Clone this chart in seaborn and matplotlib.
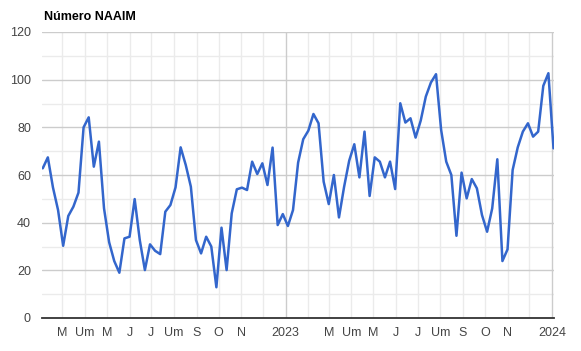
import matplotlib
matplotlib.use("Agg")
import matplotlib.pyplot as plt
import seaborn as sns
import pandas as pd

# ---- data ----
start_date = "2022-02-02"   # first weekly reading
naaim = [62.8, 67.4, 54.8, 45.3, 30.3, 42.8, 46.7, 52.6, 80.0, 84.2,
         63.5, 74.0, 46.0, 31.8, 23.9, 19.0, 33.4, 34.1, 49.9, 32.7,
         20.1, 30.9, 28.2, 26.8, 44.6, 47.4, 54.8, 71.6, 64.2, 55.1,
         32.7, 27.1, 34.1, 30.0, 12.9, 37.9, 20.1, 43.9, 54.0, 54.7,
         53.7, 65.6, 60.4, 64.9, 55.8, 71.5, 39.0, 43.6, 38.6, 45.3,
         65.2, 75.0, 78.6, 85.6, 81.7, 57.2, 47.8, 60.0, 42.2, 55.0,
         66.0, 72.9, 59.0, 78.2, 51.2, 67.4, 65.6, 59.0, 65.6, 54.1,
         90.1, 82.0, 83.8, 75.7, 82.8, 92.9, 98.8, 102.3, 78.9, 65.6,
         60.0, 34.5, 61.0, 50.2, 58.3, 54.4, 43.2, 36.2, 46.0, 66.6,
         23.9, 28.8, 62.1, 71.6, 78.2, 81.7, 76.1, 78.2, 97.4, 102.7,
         71.2]
month_ticks = ["2022-03-01", "2022-04-01", "2022-05-01", "2022-06-01", "2022-07-01",
               "2022-08-01", "2022-09-01", "2022-10-01", "2022-11-01", "2022-12-01",
               "2023-01-01", "2023-03-01", "2023-04-01", "2023-05-01", "2023-06-01",
               "2023-07-01", "2023-08-01", "2023-09-01", "2023-10-01", "2023-11-01",
               "2023-12-01", "2024-01-01"]
month_labels = ["M", "Um", "M", "J", "J", "Um", "S", "O", "N", "", "2023",
                "M", "Um", "M", "J", "J", "Um", "S", "O", "N", "", "2024"]
extra_grid = ["2023-02-01"]
year_lines = ["2023-01-01", "2024-01-01"]
y_ticks = [0, 20, 40, 60, 80, 100, 120]
title = "Número NAAIM"

dates = pd.date_range(start=start_date, periods=len(naaim), freq="7D")
df = pd.DataFrame({"date": dates, "value": naaim})

sns.set_style("white")
plt.rcParams["font.family"] = ["Liberation Sans", "DejaVu Sans"]

fig = plt.figure(figsize=(5.81, 3.51), dpi=100)
ax = fig.add_axes([42 / 581, 33 / 351, (553.5 - 42) / 581, (318 - 32) / 351])

# grid
for yv in range(10, 120, 20):
    ax.axhline(yv, color="#ebebeb", lw=1.0, zorder=0)
for yv in y_ticks[1:]:
    ax.axhline(yv, color="#cccccc", lw=1.0, zorder=0.5)
for d in month_ticks + extra_grid:
    if d not in year_lines:
        ax.axvline(pd.Timestamp(d), color="#ebebeb", lw=1.0, zorder=0)
for d in year_lines:
    ax.axvline(pd.Timestamp(d), color="#cccccc", lw=1.0, zorder=0.5)

sns.lineplot(data=df, x="date", y="value", ax=ax, color="#3366cc", lw=1.8, zorder=3)

ax.set_xlim(pd.Timestamp("2022-02-01"), dates[-1])
ax.set_ylim(0, 120)
ax.set_yticks(y_ticks)
ax.set_xticks([pd.Timestamp(d) for d in month_ticks])
ax.set_xticklabels(month_labels)
ax.set_xlabel("")
ax.set_ylabel("")
ax.tick_params(axis="both", length=0, colors="#444444", labelsize=9)
ax.tick_params(axis="y", pad=8)
ax.tick_params(axis="x", pad=6.5)

for s in ["top", "right", "left"]:
    ax.spines[s].set_visible(False)
ax.spines["bottom"].set_color("#333333")
ax.spines["bottom"].set_linewidth(1.3)
ax.spines["bottom"].set_zorder(4)

fig.text(44 / 581, 1 - 16.5 / 351, title, fontsize=9, fontweight="bold",
         color="#000000", va="center", ha="left")

fig.savefig("out.png", dpi=100, facecolor="white")
